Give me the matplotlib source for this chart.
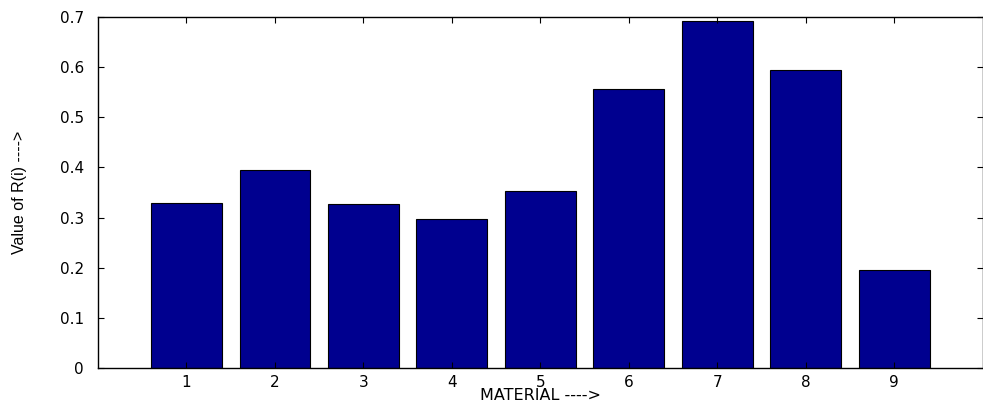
import matplotlib.pyplot as plt
import numpy as np

materials = [1, 2, 3, 4, 5, 6, 7, 8, 9]
r_values = [0.329, 0.395, 0.327, 0.297, 0.353, 0.556, 0.692, 0.594, 0.195]
y_ticks = [0, 0.1, 0.2, 0.3, 0.4, 0.5, 0.6, 0.7]
y_labels = ['0', '0.1', '0.2', '0.3', '0.4', '0.5', '0.6', '0.7']

plt.rcParams['font.family'] = ['DejaVu Sans']

fig = plt.figure(figsize=(9.83, 4.03), dpi=100)
ax = fig.add_axes([0.0997, 0.0868, 0.9, 0.871])

ax.bar(materials, r_values, width=0.8, color='#00008F', edgecolor='black', linewidth=0.8)

ax.set_xlim(0, 10)
ax.set_ylim(0, 0.7)
ax.set_xticks(materials)
ax.set_yticks(y_ticks)
ax.set_yticklabels(y_labels)
ax.tick_params(direction='in', top=True, right=True, length=4, labelsize=11)
ax.tick_params(axis='y', pad=10)
ax.tick_params(axis='x', pad=5)
for s in ax.spines.values():
    s.set_linewidth(1.0)

ax.set_xlabel('MATERIAL ---->', fontsize=11.5)
ax.xaxis.set_label_coords(0.5, -0.058)
ax.set_ylabel('Value of R(i) ---->', fontsize=11.5, family=['Liberation Sans', 'DejaVu Sans'])
ax.yaxis.set_label_coords(-0.08, 0.5)

fig.savefig('out.png', dpi=100)
